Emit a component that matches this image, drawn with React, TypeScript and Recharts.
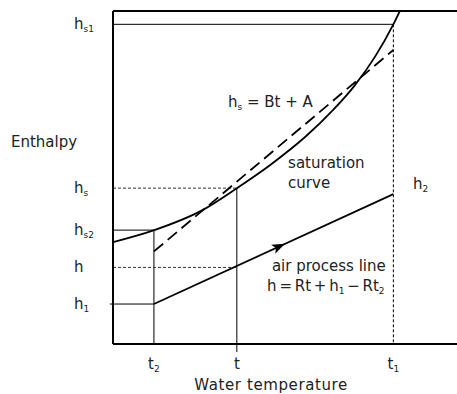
import React from "react";
import {
  ComposedChart,
  Line,
  Scatter,
  XAxis,
  YAxis,
  ReferenceLine,
  ReferenceDot,
} from "recharts";

// water temperature ticks (x) and enthalpy levels (y), chart units 0..100
const xTicks = [11.9, 36, 81.5];
const xTickLabels = [
  { base: "t", sub: "2" },
  { base: "t", sub: "" },
  { base: "t", sub: "1" },
];
const yTicks = [12, 23, 34.2, 46.8, 96];
const yTickLabels = [
  { base: "h", sub: "1" },
  { base: "h", sub: "" },
  { base: "h", sub: "s2" },
  { base: "h", sub: "s" },
  { base: "h", sub: "s1" },
];

const [t2, t, t1] = xTicks;
const [h1, h, hs2, hs, hs1] = yTicks;

// saturation curve
const satX = [0, 12, 26, 36, 46, 56, 64, 70, 76, 81.5, 83.4];
const satY = [30.6, 34.2, 40.2, 46.8, 54, 62.3, 70.3, 77.3, 86, 96, 100];

// straight line approximation hs = Bt + A
const linX = [11.9, 81.5];
const linY = [27.8, 88.3];

// air process line
const airX = [11.9, 81.5];
const airY = [12, 45];
const arrowAt = [{ x: 50, y: 30.07 }];

const satData = satX.map((x, i) => ({ x, y: satY[i] }));
const linData = linX.map((x, i) => ({ x, y: linY[i] }));
const airData = airX.map((x, i) => ({ x, y: airY[i] }));

const FONT = "DejaVu Sans";
const TXT = "#222";

function Sub({ base, sub }: { base: string; sub: string }) {
  return (
    <>
      {base}
      {sub ? (
        <tspan fontSize={9} dy={3}>
          {sub}
        </tspan>
      ) : null}
    </>
  );
}

const XTick = (props: any) => {
  const i = xTicks.indexOf(props.payload.value);
  const lbl = xTickLabels[i] || { base: "", sub: "" };
  return (
    <text x={props.x} y={369} textAnchor="middle" fontFamily={FONT} fontSize={15} fill={TXT}>
      <Sub base={lbl.base} sub={lbl.sub} />
    </text>
  );
};

const YTick = (props: any) => {
  const i = yTicks.indexOf(props.payload.value);
  const lbl = yTickLabels[i] || { base: "", sub: "" };
  return (
    <text x={74} y={props.y + 5} textAnchor="start" fontFamily={FONT} fontSize={15} fill={TXT}>
      <Sub base={lbl.base} sub={lbl.sub} />
    </text>
  );
};

const textAt = (content: React.ReactNode, extra: any = {}) => (p: any) =>
  (
    <text x={p.cx} y={p.cy + 5} fontFamily={FONT} fontSize={15} fill={TXT} {...extra}>
      {content}
    </text>
  );

const Arrow = (p: any) => (
  <polygon
    points="0,0 -13,-5 -10,0 -13,5"
    fill="#000"
    transform={`translate(${p.cx},${p.cy}) rotate(-24.7)`}
  />
);

export default function App() {
  return (
    <div style={{ position: "absolute", left: 0, top: 0, width: 457, height: 394, background: "#fff" }}>
      <ComposedChart width={457} height={394} margin={{ top: 11, right: 0, left: 0, bottom: 0 }}>
        <XAxis
          type="number"
          dataKey="x"
          domain={[0, 100]}
          ticks={xTicks}
          tick={<XTick />}
          tickLine={false}
          axisLine={{ stroke: "#000", strokeWidth: 2 }}
          height={50}
          allowDataOverflow
          label={{
            content: () => (
              <text x={271} y={390} textAnchor="middle" fontFamily={FONT} fontSize={15} letterSpacing={0.6} fill={TXT}>
                Water temperature
              </text>
            ),
          }}
        />
        <YAxis
          type="number"
          dataKey="y"
          domain={[0, 100]}
          ticks={yTicks}
          tick={<YTick />}
          tickLine={false}
          axisLine={{ stroke: "#000", strokeWidth: 2 }}
          width={113}
          allowDataOverflow
          label={{
            content: () => (
              <text x={11} y={147} fontFamily={FONT} fontSize={15} fill={TXT}>
                Enthalpy
              </text>
            ),
          }}
        />
        <ReferenceLine y={100} stroke="#000" strokeWidth={2} />

        {/* guide lines */}
        <ReferenceLine segment={[{ x: 0, y: hs1 }, { x: t1, y: hs1 }]} stroke="#000" strokeWidth={1} />
        <ReferenceLine segment={[{ x: t1, y: hs1 }, { x: t1, y: 0 }]} stroke="#000" strokeWidth={1} strokeDasharray="3 2" />
        <ReferenceLine segment={[{ x: 0, y: hs }, { x: t, y: hs }]} stroke="#333" strokeWidth={1} strokeDasharray="3 2" />
        <ReferenceLine segment={[{ x: t, y: hs }, { x: t, y: -2.4 }]} stroke="#000" strokeWidth={1} ifOverflow="visible" />
        <ReferenceLine segment={[{ x: 0, y: hs2 }, { x: t2, y: hs2 }]} stroke="#000" strokeWidth={1} />
        <ReferenceLine segment={[{ x: t2, y: hs2 }, { x: t2, y: 0 }]} stroke="#000" strokeWidth={1} />
        <ReferenceLine segment={[{ x: 0, y: h }, { x: t, y: h }]} stroke="#333" strokeWidth={1} strokeDasharray="3 2" />
        <ReferenceLine segment={[{ x: -0.9, y: h1 }, { x: t2, y: h1 }]} stroke="#000" strokeWidth={1} ifOverflow="visible" />

        <Line data={satData} dataKey="y" type="monotone" stroke="#000" strokeWidth={1.8} dot={false} isAnimationActive={false} />
        <Line data={linData} dataKey="y" type="linear" stroke="#000" strokeWidth={1.8} strokeDasharray="12 6" dot={false} isAnimationActive={false} />
        <Line data={airData} dataKey="y" type="linear" stroke="#000" strokeWidth={1.8} dot={false} isAnimationActive={false} />
        <Scatter data={arrowAt} dataKey="y" shape={<Arrow />} isAnimationActive={false} />

        {/* annotations */}
        <ReferenceDot x={33.4} y={72.7} r={0} shape={textAt(<><Sub base="h" sub="s" /><tspan dy={-3}> = Bt + A</tspan></>)} />
        <ReferenceDot x={50.9} y={54.4} r={0} shape={textAt("saturation")} />
        <ReferenceDot x={50.9} y={48.3} r={0} shape={textAt("curve")} />
        <ReferenceDot x={87.2} y={48} r={0} shape={textAt(<Sub base="h" sub="2" />)} />
        <ReferenceDot x={46.2} y={23.4} r={0} shape={textAt("air process line")} />
        <ReferenceDot
          x={44.8}
          y={17.4}
          r={0}
          shape={textAt(
            <>
              h = Rt + <Sub base="h" sub="1" />
              <tspan dy={-3}> − R</tspan>
              <Sub base="t" sub="2" />
            </>,
            { wordSpacing: -2 }
          )}
        />
      </ComposedChart>
    </div>
  );
}
